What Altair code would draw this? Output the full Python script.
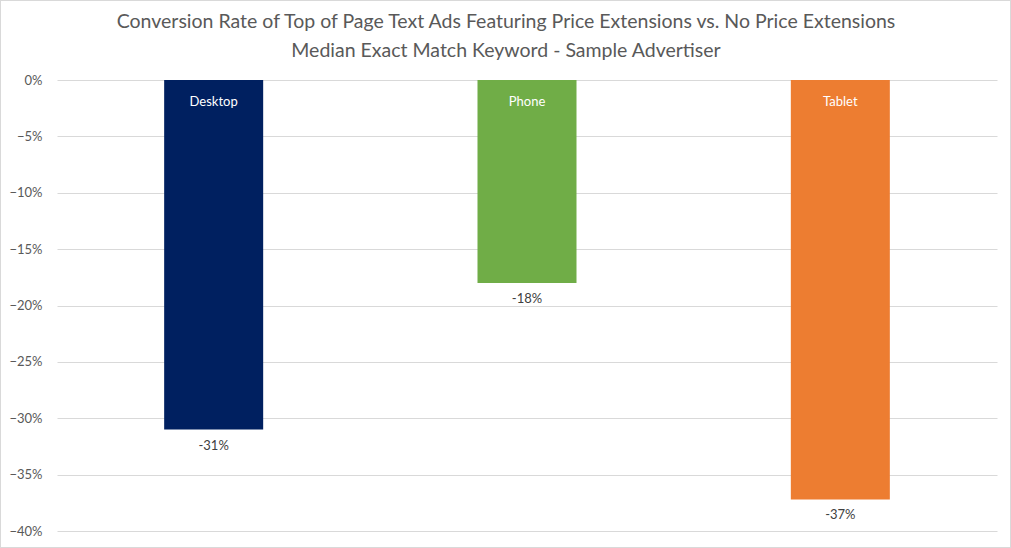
import altair as alt
import pandas as pd

devices = ["Desktop", "Phone", "Tablet"]
values = [-0.31, -0.18, -0.372]
labels = ["-31%", "-18%", "-37%"]
colors = ["#002060", "#70AD47", "#ED7D31"]

df = pd.DataFrame({"device": devices, "value": values, "label": labels})

FONT = "Lato"
W, H = 940, 451

x = alt.X("device:N", sort=devices, axis=None,
          scale=alt.Scale(paddingInner=0.684, paddingOuter=0.342))

bars = alt.Chart(df).mark_bar().encode(
    x=x,
    y=alt.Y("value:Q", scale=alt.Scale(domain=[-0.4, 0], nice=False),
            axis=alt.Axis(format=".0%", values=[0, -0.05, -0.1, -0.15, -0.2, -0.25, -0.3, -0.35, -0.4],
                          title=None, ticks=False, domain=False, grid=True,
                          gridColor="#d9d9d9", gridWidth=1,
                          labelColor="#595959", labelFont=FONT, labelFontSize=13,
                          labelPadding=15)),
    y2=alt.datum(0),
    color=alt.Color("device:N", scale=alt.Scale(domain=devices, range=colors), legend=None),
)

names = alt.Chart(df).mark_text(color="white", font=FONT, fontSize=13, dy=22, baseline="middle").encode(
    x=x, y=alt.datum(0), text="device:N"
)

vals = alt.Chart(df).mark_text(color="#404040", font=FONT, fontSize=13, dy=16, baseline="middle").encode(
    x=x, y="value:Q", text="label:N"
)

border = alt.Chart(df).mark_rect(fill="transparent", stroke="#d9d9d9", strokeWidth=1).encode(
    x=alt.value(-56.5), x2=alt.value(W + 13.5), y=alt.value(-79.5), y2=alt.value(H + 16.5)
)

chart = alt.layer(border, bars, names, vals).properties(
    width=W, height=H,
    background="white",
    title=alt.TitleParams(
        "Conversion Rate of Top of Page Text Ads Featuring Price Extensions vs. No Price Extensions",
        subtitle="Median Exact Match Keyword - Sample Advertiser",
        font=FONT, fontSize=19.5, fontWeight="normal", color="#595959",
        subtitleFont=FONT, subtitleFontSize=19.5, subtitleColor="#595959",
        subtitlePadding=9,
        anchor="middle", dx=-21, offset=-61,
    ),
    autosize=alt.AutoSizeParams(type="none"),
    padding={"left": 57, "top": 80, "right": 14, "bottom": 17},
).configure_view(stroke="transparent", strokeWidth=0)

chart.save("out.html", embed_options={"renderer": "svg", "actions": False})
